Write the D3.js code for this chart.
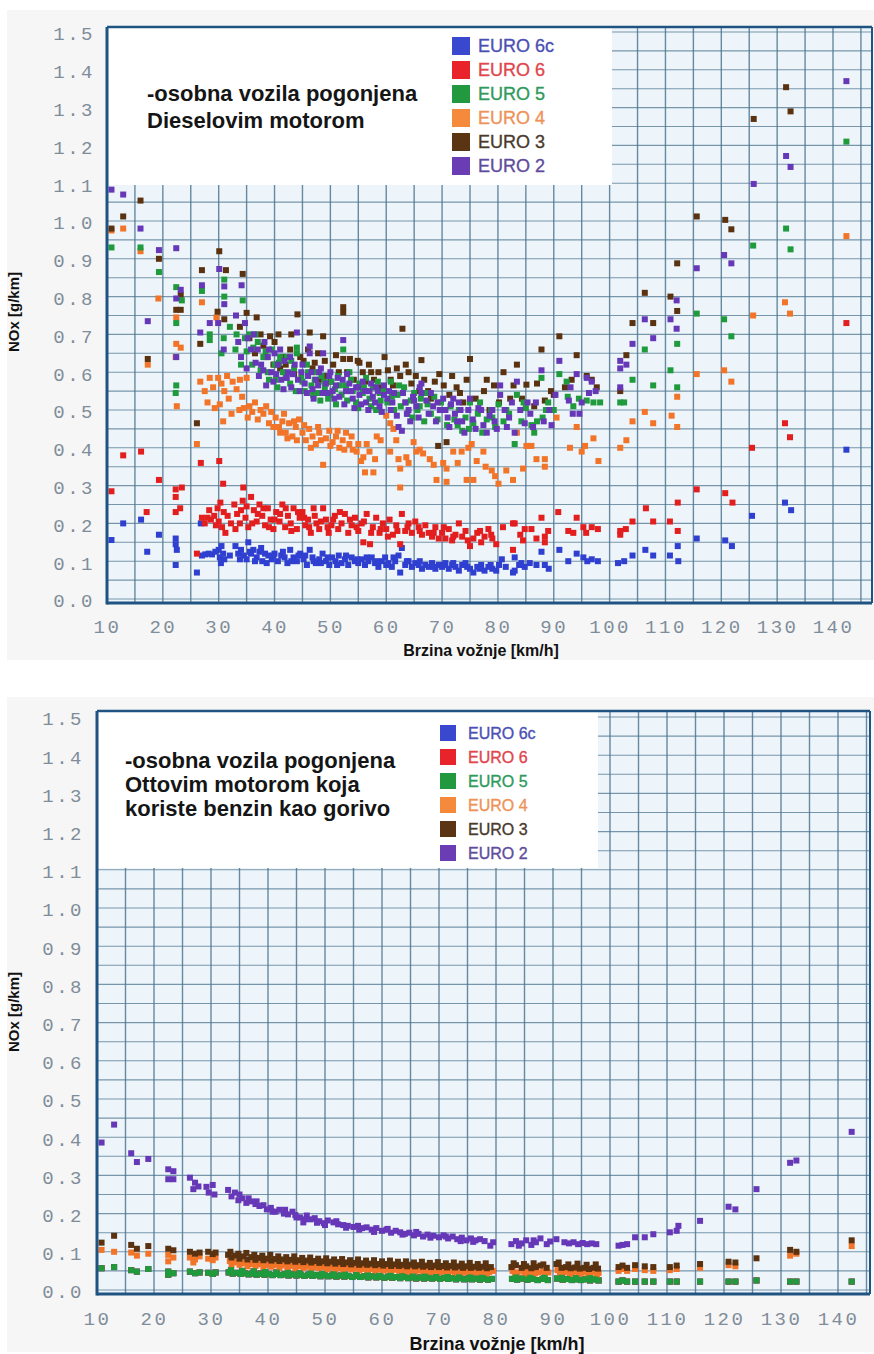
<!DOCTYPE html>
<html><head><meta charset="utf-8">
<script src="https://cdn.jsdelivr.net/npm/d3@7"></script>
<style>body{margin:0;background:#fff}svg{display:block}</style>
</head><body><svg id="c" width="874" height="1354"></svg>
<script>
// ---------- labels / ticks ----------
const legendLabels = ["EURO 6c","EURO 6","EURO 5","EURO 4","EURO 3","EURO 2"];
const seriesColors = ["#2f3fd0","#e31e1e","#1f9a3c","#f27428","#5a3210","#6638b8"];
const legendSquareColors = ["#3a48d0","#e8242a","#22993f","#f58a3c","#5b3513","#6a3db5"];
const legendTextColors = ["#4b50b4","#e0464c","#2f9a5c","#ee9358","#4a3a2c","#5e4c9c"];
const xTickValues = [10,20,30,40,50,60,70,80,90,100,110,120,130,140];
const yTickValues = [0,0.1,0.2,0.3,0.4,0.5,0.6,0.7,0.8,0.9,1.0,1.1,1.2,1.3,1.4,1.5];
const dieselTitle = ["-osobna vozila pogonjena","Dieselovim motorom"];
const ottoTitle = ["-osobna vozila pogonjena","Ottovim motorom koja","koriste benzin kao gorivo"];
const xAxisTitle = "Brzina vožnje [km/h]";
const yAxisTitle = "NOx [g/km]";

// ---------- Diesel data [speed km/h, NOx g/km] ----------
const dieselE6c = [[10.8,0.156],[12.9,0.20],[16.1,0.21],[17.2,0.125],[19.3,0.17],[22.3,0.16],[22.3,0.145],[22.5,0.13],[22.3,0.09],[26.1,0.07],[26.8,0.20],
[27.0,0.115],[27.6,0.118],[28.2,0.12],[28.8,0.118],[29.4,0.125],[30.0,0.13],[30.2,0.11],[30.5,0.14],[30.8,0.12],[31.0,0.105],[30.4,0.095],
[33.0,0.14],[33.5,0.12],[34.0,0.13],[34.5,0.115],[35.0,0.105],[35.3,0.15],[35.8,0.12],[36.2,0.13],[36.8,0.11],[37.3,0.125],[37.8,0.10],[38.3,0.12],[38.9,0.115],[39.5,0.105],[40.0,0.12],[40.6,0.10],[41.2,0.115],[41.8,0.11],[42.3,0.095],[42.8,0.13],[43.4,0.11],[44.0,0.10],[44.6,0.12],
[45.2,0.105],[45.8,0.09],[46.3,0.13],[46.8,0.11],[47.4,0.095],[48.0,0.105],[48.6,0.12],[49.2,0.10],[49.8,0.09],[50.3,0.11],[50.9,0.10],[51.5,0.115],[52.0,0.095],[52.6,0.105],[53.2,0.09],[53.8,0.11],[54.4,0.10],[55.0,0.095],[55.6,0.105],[56.2,0.09],[56.8,0.10],[57.4,0.11],[58.0,0.095],[58.6,0.085],[59.2,0.10],[59.8,0.11],[60.4,0.095],[61.0,0.085],[61.6,0.10],[62.2,0.115],[62.8,0.135],[62.5,0.07],[63.4,0.09],[64.0,0.10],[64.6,0.085],[65.2,0.095],[65.8,0.09],[66.4,0.08],[67.0,0.09],[67.6,0.085],[68.2,0.095],[68.8,0.08],[69.4,0.09],[70.0,0.085],[70.6,0.095],[71.2,0.08],[71.8,0.09],[72.4,0.085],[73.0,0.075],[73.6,0.09],[74.2,0.095],[75.0,0.08],[75.6,0.07],[76.3,0.085],[77.0,0.09],[77.6,0.075],[78.3,0.085],[79.0,0.08],[79.7,0.075],[80.7,0.105],[81.4,0.085],[82.7,0.07],[83.0,0.075],[83.0,0.11],[83.8,0.09],[84.8,0.085],[85.7,0.095],[86.9,0.09],[87.8,0.125],[88.4,0.09],[89.1,0.08],[91.0,0.13],[92.6,0.10],[94.1,0.12],[95.3,0.11],[96.0,0.10],[96.8,0.105],[97.9,0.10],
[32.0,0.115],[33.8,0.105],[35.6,0.125],[36.5,0.10],[37.6,0.135],[38.6,0.095],[39.8,0.115],[41.5,0.125],[43.0,0.10],[44.3,0.115],[45.5,0.115],[47.0,0.10],[48.3,0.095],[49.5,0.11],[51.2,0.09],[52.8,0.115],[54.8,0.105],[56.5,0.11],[58.3,0.10],[60.0,0.09],[61.3,0.11],[63.7,0.10],[66.0,0.10],[68.5,0.085],[70.3,0.09],[72.0,0.095],[74.5,0.085],[76.7,0.08],[78.7,0.09],[80.2,0.09],[84.2,0.095],
[101.5,0.095],[102.6,0.10],[104.1,0.115],[106.4,0.13],[107.8,0.115],[110.8,0.115],[112.2,0.14],[112.3,0.10],[115.6,0.16],[120.7,0.155],[121.9,0.14],[125.5,0.22],[131.4,0.255],[132.5,0.235],[142.4,0.395]];

const dieselE6 = [[10.8,0.285],[12.9,0.38],[16.1,0.39],[17.1,0.23],[19.3,0.315],[22.3,0.29],[22.3,0.27],[22.3,0.23],[23.1,0.24],[23.4,0.295],[26.8,0.36],[26.1,0.12],[30.1,0.365],[30.8,0.305],[34.4,0.295],
[27.0,0.215],[27.5,0.20],[28.0,0.215],[28.6,0.21],[29.2,0.22],[29.8,0.24],[30.0,0.205],[30.3,0.255],[30.6,0.19],[30.9,0.23],[31.2,0.175],
[32.8,0.25],[33.3,0.225],[33.8,0.20],[34.3,0.26],[34.8,0.215],[35.3,0.19],[35.8,0.27],[36.3,0.235],[36.8,0.205],[37.3,0.25],[37.8,0.22],[38.3,0.195],[38.8,0.24],[39.3,0.21],[39.8,0.185],[40.3,0.23],[40.9,0.205],[41.4,0.25],[41.9,0.19],[42.4,0.22],[42.9,0.20],[43.4,0.24],[44.0,0.185],[44.5,0.215],
[45.0,0.23],[45.5,0.195],[46.0,0.21],[46.5,0.175],[47.0,0.24],[47.5,0.20],[48.0,0.185],[48.7,0.24],[49.2,0.21],[49.7,0.175],[50.2,0.195],[50.8,0.22],[51.4,0.185],[52.0,0.20],[52.6,0.225],[53.2,0.175],[53.8,0.195],[54.4,0.215],[55.0,0.18],[55.6,0.20],[55.9,0.15],[56.5,0.225],[57.1,0.145],[57.6,0.19],[58.2,0.215],[58.8,0.175],[59.4,0.20],[60.0,0.185],[60.6,0.21],[61.2,0.17],[61.8,0.195],[62.5,0.145],[62.8,0.225],[63.4,0.18],[64.0,0.20],[64.6,0.175],[65.2,0.205],[65.8,0.19],[66.4,0.17],[67.0,0.195],[67.6,0.175],[68.2,0.165],[68.8,0.19],[69.4,0.16],[70.0,0.175],[70.6,0.16],[71.2,0.185],[71.8,0.155],[72.4,0.17],[73.0,0.20],[73.6,0.165],[74.2,0.18],[75.0,0.14],[75.6,0.16],[76.3,0.175],[77.0,0.15],[77.6,0.165],[78.3,0.185],[79.0,0.16],[79.7,0.145],[80.9,0.19],[82.7,0.20],[82.7,0.13],[83.0,0.20],[84.5,0.155],[84.8,0.185],[86.0,0.185],[86.9,0.16],[87.8,0.215],[88.4,0.165],[88.4,0.15],[90.8,0.23],[92.6,0.18],[94.1,0.215],[95.3,0.19],[95.8,0.175],[96.8,0.19],[97.9,0.185],
[28.3,0.235],[29.5,0.195],[31.6,0.22],[32.2,0.20],[33.0,0.185],[34.0,0.235],[35.0,0.245],[36.0,0.20],[37.0,0.225],[38.0,0.24],[39.0,0.19],[40.0,0.21],[41.0,0.225],[42.0,0.24],[43.0,0.18],[44.2,0.23],[45.3,0.215],[46.2,0.19],[47.2,0.22],[48.3,0.205],[49.5,0.19],[50.5,0.21],[51.7,0.23],[53.5,0.21],[54.7,0.19],[56.0,0.205],[57.3,0.175],[59.0,0.185],[60.3,0.165],[62.0,0.18],[63.8,0.19],[66.0,0.18],[68.5,0.175],[70.3,0.19],[72.0,0.165],[74.6,0.155],[76.8,0.18],[78.8,0.17],[84.0,0.17],[89.0,0.18],[93.5,0.175],
[101.9,0.17],[101.9,0.18],[102.9,0.185],[104.1,0.205],[106.5,0.24],[107.8,0.205],[110.8,0.205],[112.2,0.18],[112.2,0.255],[115.6,0.29],[120.7,0.28],[122.0,0.255],[125.5,0.40],[131.4,0.465],[132.3,0.428],[142.4,0.73]];

const dieselE5 = [[10.8,0.93],[16.0,0.93],[19.3,0.865],[22.4,0.825],[22.4,0.73],[22.4,0.565],[23.4,0.79],[22.3,0.545],
[27.0,0.815],[28.4,0.70],[28.4,0.685],[31.0,0.845],[31.0,0.80],[30.9,0.69],[30.5,0.65],[33.2,0.70],[34.3,0.79],[34.7,0.69],[35.5,0.70],[36.2,0.665],[37.0,0.68],
[38.0,0.64],[38.8,0.60],[39.5,0.66],[40.2,0.58],[40.8,0.625],[41.5,0.60],[42.2,0.64],[42.8,0.57],[43.5,0.61],[44.0,0.665],[44.0,0.65],[44.8,0.585],[45.4,0.55],[46.0,0.60],[46.6,0.565],[47.2,0.58],[47.8,0.545],[48.4,0.59],[49.0,0.56],[49.6,0.53],[50.2,0.575],[50.8,0.555],[51.4,0.59],[52.0,0.54],[52.3,0.66],[52.8,0.565],[53.4,0.60],[54.0,0.55],[54.6,0.52],[55.2,0.57],[55.8,0.545],[56.4,0.585],[57.0,0.53],[57.6,0.56],[58.2,0.50],[58.8,0.545],[59.6,0.555],[60.2,0.52],[60.8,0.575],[61.4,0.50],[62.0,0.54],[62.6,0.51],[63.2,0.56],[63.8,0.49],[64.4,0.525],[65.0,0.545],[65.6,0.50],[66.2,0.53],[66.8,0.47],[67.4,0.515],[68.0,0.49],[68.6,0.535],[69.2,0.475],[70.0,0.50],[70.9,0.46],[71.5,0.51],[72.2,0.475],[73.0,0.50],[73.6,0.445],[74.2,0.48],[75.0,0.52],[75.6,0.465],[76.4,0.49],[77.2,0.44],[78.0,0.475],[78.8,0.50],[79.5,0.455],[80.1,0.515],[81.0,0.47],[82.0,0.49],[83.0,0.41],[83.4,0.54],[84.2,0.47],[85.0,0.505],[86.0,0.46],[87.0,0.47],[87.8,0.585],[88.0,0.48],[89.0,0.52],[90.0,0.50],[91.0,0.595],[92.3,0.575],[92.5,0.535],[93.5,0.51],[94.5,0.53],[95.9,0.525],[97.1,0.52],[98.3,0.52],
[32.0,0.72],[33.0,0.66],[34.0,0.62],[35.0,0.655],[36.0,0.62],[36.6,0.70],[37.5,0.605],[38.4,0.655],[39.0,0.58],[40.0,0.62],[40.5,0.56],[41.0,0.64],[42.0,0.585],[43.0,0.63],[43.8,0.55],[45.0,0.575],[45.8,0.62],[46.9,0.54],[47.5,0.60],[48.2,0.525],[48.9,0.575],[50.0,0.54],[51.0,0.515],[51.7,0.565],[53.0,0.525],[53.7,0.58],[55.0,0.505],[56.0,0.56],[57.3,0.51],[58.5,0.575],[59.0,0.525],[61.0,0.535],[62.3,0.565],[63.5,0.52],[64.7,0.48],[66.0,0.51],[67.0,0.545],[69.8,0.52],[72.8,0.46],[74.8,0.45],[76.8,0.52],[79.0,0.48],[81.5,0.50],[84.6,0.52],[86.5,0.44],[88.6,0.50],
[101.9,0.52],[102.6,0.52],[104.1,0.58],[106.3,0.66],[107.8,0.565],[110.9,0.605],[112.1,0.56],[112.1,0.675],[115.6,0.755],[120.5,0.74],[121.8,0.695],[125.7,0.935],[131.6,0.98],[132.4,0.925],[142.4,1.21]];

const dieselE4 = [[10.8,0.975],[12.9,0.98],[16.0,0.92],[17.3,0.62],[19.2,0.795],[22.4,0.745],[22.4,0.675],[23.2,0.665],[22.5,0.51],[22.3,0.64],
[26.7,0.575],[27.0,0.785],[26.1,0.41],[28.4,0.585],[29.9,0.585],[30.2,0.515],[30.8,0.47],[31.0,0.55],[29.6,0.745],[31.5,0.59],[32.5,0.575],
[33.8,0.58],[35.0,0.585],[33.7,0.50],[34.5,0.505],[35.5,0.51],[36.5,0.52],[37.5,0.50],[38.5,0.51],[39.4,0.495],
[40.2,0.48],[40.8,0.455],[41.4,0.47],[42.0,0.44],[42.6,0.465],[43.2,0.43],[43.8,0.455],[44.4,0.475],[45.0,0.44],[45.6,0.42],[46.2,0.45],[46.8,0.43],[47.4,0.41],[48.0,0.44],[48.7,0.355],[49.2,0.425],[49.8,0.445],[50.4,0.415],[51.0,0.43],[51.6,0.40],[52.2,0.42],[52.8,0.44],[53.4,0.41],[54.0,0.395],[54.7,0.39],[55.9,0.375],[56.2,0.335],[57.7,0.335],[56.5,0.41],[58.3,0.43],[60.0,0.485],[60.7,0.465],[60.7,0.39],[61.3,0.45],[62.2,0.37],[62.5,0.345],[62.5,0.295],[63.6,0.375],[64.9,0.415],[65.4,0.39],[66.0,0.395],[66.6,0.385],[67.8,0.37],[69.0,0.315],[70.2,0.36],[70.8,0.345],[70.8,0.31],[72.0,0.39],[73.5,0.39],[74.4,0.315],[74.7,0.40],[75.3,0.41],[75.6,0.315],[76.2,0.365],[77.4,0.39],[78.9,0.34],[79.5,0.325],[80.1,0.305],[82.7,0.315],[83.4,0.44],[84.5,0.345],[85.1,0.405],[86.0,0.405],[86.9,0.37],[88.4,0.37],[88.4,0.35],[90.5,0.48],[92.9,0.40],[94.1,0.455],[95.0,0.39],[95.6,0.405],[97.1,0.425],[98.0,0.365],
[27.5,0.55],[28.0,0.52],[29.0,0.56],[29.3,0.505],[30.5,0.57],[31.8,0.53],[32.3,0.49],[33.2,0.555],[34.2,0.535],[35.2,0.48],[36.0,0.495],[37.0,0.475],[38.0,0.49],[39.0,0.465],[39.8,0.455],[41.0,0.44],[41.7,0.49],[42.3,0.425],[43.5,0.47],[44.0,0.42],[45.3,0.46],[46.5,0.40],[47.8,0.455],[48.3,0.42],[50.0,0.405],[51.3,0.445],[52.5,0.395],[53.8,0.43],[55.0,0.41],[55.5,0.365],[57.0,0.39],[58.0,0.37],[59.0,0.42],[61.8,0.42],[64.0,0.36],[68.5,0.355],[72.8,0.36],[77.8,0.35],[81.5,0.34],
[101.9,0.40],[103.0,0.42],[104.1,0.47],[106.3,0.495],[107.8,0.465],[111.1,0.485],[112.1,0.535],[112.1,0.455],[115.6,0.595],[120.5,0.605],[121.8,0.575],[125.7,0.75],[131.4,0.785],[132.3,0.755],[142.4,0.96]];

const dieselE3 = [[10.8,0.98],[12.9,1.012],[16.0,1.054],[17.3,0.635],[19.3,0.90],[22.4,0.765],[23.2,0.765],[23.2,0.805],[26.1,0.465],[27.0,0.87],[30.1,0.92],[31.3,0.87],[34.3,0.86],[35.0,0.757],[36.8,0.745],[26.7,0.675],[29.8,0.76],[31.0,0.74],
[39.2,0.695],[40.7,0.70],[44.1,0.753],[46.3,0.705],[48.7,0.695],[52.3,0.772],[52.3,0.758],[52.3,0.635],[53.5,0.635],[54.9,0.63],
[38.0,0.67],[39.8,0.62],[41.5,0.64],[42.8,0.66],[43.5,0.595],[45.2,0.63],[46.8,0.61],[47.8,0.65],[49.4,0.59],[50.5,0.62],[51.5,0.60],[55.8,0.60],[56.9,0.62],[57.8,0.58],[58.6,0.60],[59.7,0.64],[60.8,0.58],[61.9,0.61],[62.9,0.715],[63.5,0.62],[64.5,0.57],[65.3,0.59],[66.3,0.632],[67.5,0.55],[68.7,0.575],[69.3,0.405],[69.5,0.595],[70.8,0.415],[71.3,0.54],[72.6,0.56],[73.8,0.52],[75.0,0.635],[76.0,0.53],[77.5,0.55],[78.5,0.50],[79.3,0.565],[81.0,0.60],[82.2,0.53],[83.4,0.62],[85.1,0.567],[86.5,0.51],[87.8,0.66],[88.4,0.525],[89.5,0.55],[91.0,0.695],[92.0,0.56],[94.1,0.645],[95.9,0.59],[96.8,0.58],[97.7,0.56],
[33.8,0.72],[35.5,0.69],[36.5,0.65],[37.5,0.70],[38.5,0.64],[40.0,0.68],[41.0,0.61],[42.0,0.62],[43.0,0.70],[44.6,0.64],[46.0,0.66],[47.2,0.625],[48.2,0.58],[49.0,0.63],[50.0,0.575],[51.0,0.645],[53.0,0.60],[54.2,0.58],[55.2,0.625],[56.3,0.575],[57.3,0.60],[59.0,0.56],[60.3,0.605],[61.2,0.565],[62.5,0.59],[64.0,0.60],[65.9,0.55],[66.8,0.58],[68.0,0.53],[70.3,0.565],[71.8,0.59],[73.2,0.545],[74.4,0.58],[76.7,0.50],[78.0,0.58],[80.2,0.52],[82.8,0.565],[84.3,0.53],[87.0,0.57],[90.0,0.54],[93.2,0.58],
[101.9,0.55],[103.0,0.645],[104.1,0.73],[106.3,0.81],[107.8,0.73],[110.9,0.80],[112.1,0.762],[112.1,0.888],[115.6,1.012],[120.7,1.003],[121.8,0.978],[125.8,1.27],[131.6,1.354],[132.4,1.29]];

const dieselE2 = [[10.8,1.083],[12.9,1.07],[16.0,0.98],[17.3,0.735],[19.3,0.923],[22.4,0.928],[23.2,0.818],[22.4,0.795],[22.4,0.64],[27.0,0.83],[26.7,0.705],[28.4,0.73],[29.9,0.73],[30.1,0.873],[31.0,0.827],[31.0,0.78],[30.9,0.66],[33.1,0.75],[34.1,0.83],[34.7,0.73],[35.2,0.69],[36.3,0.70],
[37.0,0.66],[37.6,0.62],[38.2,0.68],[38.8,0.64],[39.4,0.60],[40.0,0.65],[40.6,0.62],[41.2,0.58],[41.8,0.63],[42.4,0.60],[43.0,0.56],[43.6,0.62],[44.0,0.705],[44.2,0.58],[44.8,0.60],[45.4,0.57],[46.0,0.59],[46.3,0.668],[46.3,0.65],[46.8,0.555],[47.4,0.58],[48.0,0.60],[48.7,0.65],[48.6,0.545],[49.2,0.57],[49.8,0.59],[50.4,0.55],[51.0,0.565],[51.6,0.535],[52.3,0.685],[52.2,0.58],[52.8,0.55],[53.4,0.57],[54.0,0.53],[54.6,0.56],[55.2,0.54],[55.8,0.575],[56.4,0.52],[57.0,0.55],[57.6,0.535],[58.2,0.56],[58.8,0.51],[59.6,0.565],[59.6,0.54],[60.2,0.53],[60.8,0.50],[61.4,0.545],[61.9,0.485],[62.2,0.455],[62.8,0.445],[63.4,0.52],[64.0,0.50],[64.8,0.535],[65.4,0.51],[66.0,0.56],[66.3,0.57],[66.3,0.545],[67.2,0.525],[68.4,0.51],[69.6,0.50],[70.2,0.53],[71.0,0.48],[71.6,0.515],[72.3,0.49],[73.0,0.52],[73.6,0.47],[74.7,0.50],[75.5,0.475],[76.5,0.505],[77.4,0.46],[78.5,0.485],[79.4,0.47],[80.4,0.565],[80.4,0.54],[81.2,0.50],[82.0,0.48],[83.4,0.575],[84.0,0.50],[84.8,0.465],[85.8,0.49],[86.8,0.52],[87.8,0.605],[88.2,0.47],[89.2,0.50],[91.0,0.63],[92.7,0.525],[93.4,0.49],[94.1,0.595],[95.0,0.52],[95.9,0.585],[96.8,0.575],[97.5,0.55],
[33.5,0.68],[34.0,0.64],[35.0,0.61],[35.8,0.66],[36.6,0.625],[37.2,0.59],[38.0,0.605],[38.5,0.565],[39.0,0.66],[39.8,0.575],[40.3,0.595],[41.0,0.66],[41.6,0.555],[42.2,0.585],[42.8,0.64],[43.3,0.595],[44.5,0.55],[45.0,0.62],[45.8,0.545],[46.6,0.60],[47.0,0.53],[47.8,0.565],[48.3,0.61],[49.5,0.545],[50.0,0.60],[50.7,0.53],[51.3,0.585],[52.5,0.515],[53.0,0.595],[53.7,0.55],[54.3,0.505],[55.0,0.56],[55.5,0.515],[56.2,0.55],[56.8,0.50],[57.3,0.57],[58.0,0.52],[58.5,0.55],[59.2,0.495],[60.5,0.55],[61.1,0.52],[63.0,0.545],[63.7,0.49],[64.3,0.47],[65.0,0.525],[65.8,0.48],[67.6,0.49],[68.0,0.545],[68.9,0.47],[69.2,0.52],[70.6,0.50],[71.3,0.455],[72.0,0.53],[72.7,0.47],[73.3,0.50],[74.0,0.44],[75.0,0.53],[76.0,0.45],[77.0,0.50],[78.0,0.44],[79.0,0.50],[79.8,0.45],[81.6,0.455],[82.5,0.52],[83.0,0.44],[85.3,0.52],[86.3,0.455],[89.6,0.46],[90.3,0.54],[93.0,0.56],[94.6,0.49],[96.3,0.545],
[101.9,0.61],[101.9,0.56],[103.0,0.62],[101.9,0.63],[104.1,0.675],[106.3,0.74],[107.8,0.69],[110.9,0.74],[112.0,0.715],[112.0,0.79],[115.6,0.875],[120.5,0.91],[121.8,0.888],[125.8,1.098],[131.6,1.172],[132.4,1.143],[142.4,1.37]];

// ---------- Otto (petrol) data ----------
const ottoE2 = [[10.8,0.386],[13.0,0.433],[16.0,0.358],[17.0,0.335],[19.0,0.343],[22.5,0.316],[23.4,0.311],[22.5,0.29],[23.4,0.29],[26.3,0.294],[27.2,0.281],[26.9,0.264],[27.8,0.271],[29.2,0.27],[29.6,0.255],[30.3,0.275],[30.6,0.25],[33.0,0.262],[33.6,0.245],[34.2,0.255],[34.8,0.235],[35.5,0.24],[36.2,0.228],[37.0,0.232],[37.8,0.225],[38.5,0.22],[39.8,0.211],[40.5,0.215],[41.3,0.205],[42.0,0.21],[42.8,0.20],[43.5,0.198],[44.3,0.205],[45.0,0.19],[45.6,0.19],[46.2,0.177],[46.8,0.195],[47.5,0.185],[48.2,0.188],[49.0,0.18],[49.8,0.175],[50.5,0.182],[51.5,0.177],[52.3,0.172],[53.2,0.17],[54.0,0.168],[55.0,0.165],[55.8,0.168],[56.5,0.162],[57.3,0.164],[58.2,0.158],[59.0,0.162],[60.0,0.155],[60.8,0.158],[61.6,0.15],[62.4,0.155],[63.2,0.151],[64.0,0.147],[64.8,0.15],[65.6,0.143],[66.4,0.147],[67.2,0.14],[68.0,0.145],[69.0,0.142],[70.0,0.138],[70.8,0.143],[71.6,0.135],[72.4,0.14],[73.2,0.133],[74.0,0.137],[74.8,0.13],[75.6,0.135],[76.4,0.13],[77.2,0.133],[78.0,0.128],[79.0,0.116],[79.5,0.125],[82.7,0.12],[83.5,0.128],[84.5,0.122],[85.3,0.13],[86.2,0.118],[87.0,0.125],[87.8,0.135],[88.9,0.12],[90.6,0.133],[92.0,0.125],[92.8,0.122],[93.6,0.125],[94.4,0.12],[95.2,0.123],[96.0,0.12],[96.8,0.122],[97.6,0.12],[101.5,0.116],[102.2,0.118],[103.0,0.12],[104.4,0.138],[106.1,0.138],[107.6,0.146],[110.5,0.151],[111.7,0.155],[112.0,0.168],[115.8,0.181],[120.8,0.218],[122.0,0.211],[125.7,0.264],[131.6,0.333],[132.7,0.339],[142.4,0.414],
[35.0,0.25],[36.6,0.24],[38.0,0.232],[39.2,0.222],[40.8,0.205],[43.0,0.21],[44.8,0.196],[46.5,0.185],[48.6,0.176],[50.0,0.17],[52.0,0.18],[53.7,0.163],[56.0,0.158],[58.6,0.152],[61.0,0.16],[63.6,0.145],[66.0,0.152],[68.5,0.137],[71.2,0.14],[73.8,0.128],[76.0,0.126],[84.0,0.116],[86.6,0.13],[89.5,0.127]];

const ottoE3 = [[10.8,0.124],[13.0,0.142],[16.0,0.118],[17.0,0.108],[19.0,0.115],[22.5,0.108],[23.4,0.104],[26.3,0.10],[27.2,0.095],[28.0,0.098],[29.5,0.10],[30.3,0.094],[30.8,0.098],
[33.0,0.092],[33.6,0.085],[34.3,0.09],[35.0,0.082],[35.7,0.088],[36.4,0.08],[37.1,0.086],[37.8,0.079],[38.5,0.084],[39.2,0.078],[39.9,0.082],[40.6,0.077],[41.3,0.081],[42.0,0.076],[42.7,0.08],[43.4,0.075],[44.1,0.079],[44.8,0.074],[45.5,0.078],[46.2,0.073],[46.9,0.077],[47.6,0.072],[48.3,0.076],[49.0,0.071],[49.7,0.075],[50.4,0.07],[51.1,0.074],[51.8,0.069],[52.5,0.073],[53.2,0.068],[53.9,0.072],[54.6,0.067],[55.3,0.071],[56.0,0.066],[56.7,0.07],[57.4,0.066],[58.1,0.069],[58.8,0.065],[59.5,0.068],[60.2,0.064],[60.9,0.068],[61.6,0.063],[62.3,0.067],[63.0,0.063],[63.7,0.066],[64.4,0.062],[65.1,0.066],[65.8,0.062],[66.5,0.065],[67.2,0.061],[67.9,0.064],[68.6,0.06],[69.3,0.064],[70.0,0.06],[70.7,0.063],[71.4,0.059],[72.1,0.063],[72.8,0.059],[73.5,0.062],[74.2,0.058],[74.9,0.062],[75.6,0.058],[76.3,0.061],[77.0,0.058],[77.7,0.061],[78.4,0.057],[79.1,0.06],[82.7,0.06],[83.5,0.065],[84.5,0.058],[85.3,0.062],[86.2,0.057],[87.0,0.06],[87.8,0.064],[88.9,0.058],[90.6,0.068],[91.5,0.058],[92.3,0.06],[93.1,0.057],[93.9,0.059],[94.7,0.056],[95.5,0.058],[96.3,0.055],[97.1,0.058],[97.9,0.056],
[33.4,0.10],[34.8,0.095],[36.2,0.097],[37.6,0.092],[39.0,0.09],[40.4,0.092],[41.8,0.088],[43.2,0.086],[44.6,0.088],[46.0,0.084],[47.4,0.085],[48.8,0.082],[50.2,0.083],[51.6,0.08],[53.0,0.081],[54.4,0.078],[55.8,0.08],[57.2,0.077],[58.6,0.078],[60.0,0.075],[61.4,0.077],[62.8,0.074],[64.2,0.075],[65.6,0.072],[67.0,0.074],[68.4,0.071],[69.8,0.073],[71.2,0.07],[72.6,0.072],[74.0,0.069],[75.4,0.071],[76.8,0.068],[78.2,0.07],[83.1,0.07],[84.9,0.068],[86.6,0.07],[88.3,0.067],[91.0,0.072],[92.7,0.067],[94.3,0.069],[95.9,0.066],[97.5,0.067],
[101.5,0.06],[102.2,0.064],[103.0,0.058],[104.4,0.065],[106.1,0.062],[107.6,0.06],[110.5,0.06],[111.7,0.064],[115.8,0.068],[120.8,0.074],[122.0,0.072],[125.7,0.083],[131.6,0.105],[132.7,0.10],[142.4,0.13]];

const ottoE4 = [[10.8,0.105],[13.0,0.10],[16.0,0.098],[17.0,0.09],[19.0,0.095],[22.5,0.092],[23.4,0.085],[26.3,0.085],[27.2,0.08],[28.0,0.088],[29.5,0.082],[30.3,0.078],[30.8,0.085],[22.5,0.075],[26.9,0.072],
[33.3,0.076],[34.0,0.072],[34.7,0.075],[35.4,0.07],[36.1,0.073],[36.8,0.068],[37.5,0.072],[38.2,0.067],[38.9,0.071],[39.6,0.066],[40.3,0.07],[41.0,0.065],[41.7,0.069],[42.4,0.064],[43.1,0.068],[43.8,0.063],[44.5,0.067],[45.2,0.062],[45.9,0.066],[46.6,0.061],[47.3,0.065],[48.0,0.06],[48.7,0.064],[49.4,0.06],[50.1,0.063],[50.8,0.059],[51.5,0.062],[52.2,0.058],[52.9,0.061],[53.6,0.057],[54.3,0.06],[55.0,0.056],[55.7,0.06],[56.4,0.055],[57.1,0.059],[57.8,0.055],[58.5,0.058],[59.2,0.054],[59.9,0.057],[60.6,0.053],[61.3,0.057],[62.0,0.053],[62.7,0.056],[63.4,0.052],[64.1,0.056],[64.8,0.052],[65.5,0.055],[66.2,0.051],[66.9,0.054],[67.6,0.05],[68.3,0.054],[69.0,0.05],[69.7,0.053],[70.4,0.049],[71.1,0.053],[71.8,0.049],[72.5,0.052],[73.2,0.048],[73.9,0.052],[74.6,0.048],[75.3,0.051],[76.0,0.047],[76.7,0.051],[77.4,0.047],[78.1,0.05],[78.8,0.047],[79.5,0.05],[82.9,0.05],[83.8,0.046],[84.8,0.05],[85.7,0.047],[86.6,0.05],[87.4,0.046],[88.3,0.049],[89.2,0.046],[90.8,0.052],[91.8,0.047],[92.6,0.049],[93.4,0.046],[94.2,0.049],[95.0,0.045],[95.8,0.048],[96.6,0.045],[97.4,0.048],[98.0,0.045],
[33.6,0.064],[35.0,0.066],[36.4,0.062],[37.8,0.063],[39.2,0.06],[40.6,0.061],[42.0,0.058],[43.4,0.06],[44.8,0.057],[46.2,0.058],[47.6,0.055],[49.0,0.057],[50.4,0.054],[51.8,0.055],[53.2,0.052],[54.6,0.054],[56.0,0.051],[57.4,0.052],[58.8,0.05],[60.2,0.051],[61.6,0.049],[63.0,0.05],[64.4,0.047],[65.8,0.049],[67.2,0.046],[68.6,0.047],[70.0,0.045],[71.4,0.046],[72.8,0.044],[74.2,0.045],[75.6,0.043],[77.0,0.044],[78.4,0.042],[83.3,0.043],[85.0,0.042],[86.8,0.043],[88.6,0.041],[91.2,0.044],[92.9,0.041],[94.5,0.042],[96.1,0.04],[97.7,0.041],
[101.5,0.05],[102.2,0.055],[103.0,0.05],[104.4,0.055],[106.1,0.052],[107.6,0.05],[110.5,0.052],[111.7,0.055],[115.8,0.058],[120.8,0.065],[122.0,0.062],[131.6,0.09],[132.7,0.095],[142.4,0.115]];

const ottoE5 = [[10.8,0.057],[13.0,0.06],[16.0,0.052],[17.0,0.048],[19.0,0.055],[22.5,0.048],[23.4,0.044],[26.3,0.048],[27.2,0.044],[28.0,0.046],[29.5,0.045],[30.3,0.042],[30.8,0.046],[22.5,0.04],
[33.1,0.046],[33.8,0.043],[34.5,0.045],[35.2,0.042],[35.9,0.044],[36.6,0.041],[37.3,0.043],[38.0,0.04],[38.7,0.043],[39.4,0.04],[40.1,0.042],[40.8,0.039],[41.5,0.042],[42.2,0.039],[42.9,0.041],[43.6,0.038],[44.3,0.041],[45.0,0.038],[45.7,0.04],[46.4,0.037],[47.1,0.04],[47.8,0.037],[48.5,0.039],[49.2,0.036],[49.9,0.039],[50.6,0.036],[51.3,0.038],[52.0,0.035],[52.7,0.038],[53.4,0.035],[54.1,0.037],[54.8,0.034],[55.5,0.037],[56.2,0.034],[56.9,0.036],[57.6,0.033],[58.3,0.036],[59.0,0.033],[59.7,0.035],[60.4,0.032],[61.1,0.035],[61.8,0.032],[62.5,0.034],[63.2,0.031],[63.9,0.034],[64.6,0.031],[65.3,0.033],[66.0,0.03],[66.7,0.033],[67.4,0.03],[68.1,0.032],[68.8,0.03],[69.5,0.032],[70.2,0.029],[70.9,0.032],[71.6,0.029],[72.3,0.031],[73.0,0.028],[73.7,0.031],[74.4,0.028],[75.1,0.03],[75.8,0.028],[76.5,0.03],[77.2,0.027],[77.9,0.03],[78.6,0.027],[79.3,0.029],[82.8,0.029],[83.7,0.027],[84.6,0.03],[85.5,0.027],[86.4,0.029],[87.3,0.026],[88.2,0.029],[89.1,0.026],[90.7,0.03],[91.7,0.027],[92.5,0.029],[93.3,0.026],[94.1,0.028],[94.9,0.026],[95.7,0.028],[96.5,0.025],[97.3,0.028],[98.0,0.025],
[33.5,0.052],[35.5,0.05],[37.5,0.049],[39.5,0.047],[41.5,0.046],[43.5,0.045],[45.5,0.044],[47.5,0.043],[49.5,0.042],[51.5,0.041],[53.5,0.04],[55.5,0.039],[57.5,0.038],[59.5,0.037],[61.5,0.037],[63.5,0.036],[65.5,0.035],[67.5,0.035],[69.5,0.034],[71.5,0.034],[73.5,0.033],[75.5,0.033],[77.5,0.032],[83.5,0.033],[86.0,0.032],[88.5,0.032],[91.5,0.032],[94.0,0.031],[96.5,0.031],
[101.5,0.022],[102.2,0.025],[103.0,0.022],[104.4,0.022],[106.1,0.022],[107.6,0.022],[110.5,0.022],[111.7,0.022],[115.8,0.022],[120.8,0.022],[122.0,0.022],[125.7,0.025],[131.6,0.022],[132.7,0.022],[142.4,0.022]];
// Petrol EURO 6 and 6c coincide with EURO 5 and lie hidden under it in the picture
const ottoE6 = ottoE5;
const ottoE6c = ottoE5;

// ---------- drawing ----------
const svg = d3.select("#c");
const drawOrder = [0,1,3,4,2,5];
const sans = "Liberation Sans, Arial, sans-serif";

function drawPanel(cfg) {
  const g = svg.append("g");
  const x = d3.scaleLinear().domain([10,140]).range(cfg.xRange);
  const y = d3.scaleLinear().domain([0,1.5]).range(cfg.yRange);
  const P = cfg.plot;
  g.append("rect").attr("x",cfg.bg[0]).attr("y",cfg.bg[1]).attr("width",cfg.bg[2]).attr("height",cfg.bg[3]).attr("fill","#f6f6f6");
  g.append("rect").attr("x",P.l).attr("y",P.t).attr("width",P.r-P.l).attr("height",P.b-P.t).attr("fill","#edf5fa");
  // grid
  const xMax = x.invert(P.r), yMax = y.invert(P.t);
  const vx = d3.range(15, xMax, 5);
  const hy = d3.range(0, yMax, 0.05);
  g.selectAll(null).data(vx).enter().append("line")
    .attr("x1",d=>x(d)).attr("x2",d=>x(d)).attr("y1",P.t).attr("y2",P.b)
    .attr("stroke","#4f7590").attr("stroke-width",1.4).attr("stroke-opacity",0.85);
  g.selectAll(null).data(hy).enter().append("line")
    .attr("x1",P.l).attr("x2",P.r).attr("y1",d=>y(d)).attr("y2",d=>y(d))
    .attr("stroke","#4f7590").attr("stroke-width",1.1).attr("stroke-opacity",0.75);
  // white title/legend box
  g.append("rect").attr("x",P.l).attr("y",P.t).attr("width",cfg.box.r-P.l).attr("height",cfg.box.b-P.t).attr("fill","#ffffff");
  // points
  drawOrder.forEach(i => {
    g.append("g").selectAll("rect").data(cfg.series[i]).enter().append("rect")
      .attr("x",d=>x(d[0])-3).attr("y",d=>y(d[1])-3).attr("width",6).attr("height",6)
      .attr("fill",seriesColors[i]);
  });
  // frame
  const fr = g.append("g").attr("stroke","#1f5382").attr("fill","none");
  fr.append("line").attr("x1",P.l).attr("x2",P.r).attr("y1",P.t).attr("y2",P.t).attr("stroke-width",2.5);
  fr.append("line").attr("x1",P.r).attr("x2",P.r).attr("y1",P.t).attr("y2",P.b).attr("stroke-width",2);
  fr.append("line").attr("x1",P.l).attr("x2",P.r).attr("y1",P.b).attr("y2",P.b).attr("stroke-width",3);
  fr.append("line").attr("x1",P.l).attr("x2",P.l).attr("y1",P.t).attr("y2",P.b+1.5).attr("stroke-width",3);
  // axes
  const ya = g.append("g").attr("transform",`translate(${P.l},0)`)
    .call(d3.axisLeft(y).tickValues(yTickValues).tickFormat(d3.format(".1f")).tickSize(0).tickPadding(cfg.yPad));
  const xa = g.append("g").attr("transform",`translate(0,${P.b})`)
    .call(d3.axisBottom(x).tickValues(xTickValues).tickFormat(d3.format("d")).tickSize(0).tickPadding(cfg.xPad));
  [ya,xa].forEach(a => {
    a.select(".domain").remove();
    a.selectAll("text").attr("font-family","Liberation Mono, DejaVu Sans Mono, monospace")
      .attr("font-size",19).attr("letter-spacing","2.5px").attr("fill","#7f8d9a");
  });
  ya.selectAll("text").attr("dy","0.42em");
  // title
  cfg.title.forEach((t,k) => {
    g.append("text").attr("x",cfg.titleX).attr("y",cfg.titleY[k]).text(t)
      .attr("font-family",sans).attr("font-weight","bold")
      .attr("font-size",cfg.titleSize).attr("fill","#151515");
  });
  // legend
  const L = cfg.legend;
  legendLabels.forEach((lab,k) => {
    const cy = L.y0 + k*L.dy;
    g.append("rect").attr("x",L.x).attr("y",cy-L.sq/2).attr("width",L.sq).attr("height",L.sq).attr("fill",legendSquareColors[k]);
    g.append("text").attr("x",L.tx).attr("y",cy+L.fs*0.36).text(lab)
      .attr("font-family",sans).attr("font-size",L.fs)
      .attr("fill",legendTextColors[k]).attr("stroke",legendTextColors[k]).attr("stroke-width",0.35);
  });
  // axis titles
  g.append("text").attr("transform",`translate(${cfg.yTitle.x},${cfg.yTitle.y}) rotate(-90)`)
    .attr("text-anchor","middle").text(yAxisTitle).attr("font-weight","bold")
    .attr("font-family",sans).attr("font-size",cfg.yTitle.fs).attr("fill","#111");
  g.append("text").attr("x",cfg.xTitle.x).attr("y",cfg.xTitle.y).attr("text-anchor","middle").text(xAxisTitle)
    .attr("font-weight","bold").attr("font-family",sans).attr("font-size",cfg.xTitle.fs).attr("fill","#111");
}

drawPanel({
  bg:[7,10,867,650], plot:{l:107,r:872,t:27,b:603}, xRange:[107,833], yRange:[599,32],
  box:{r:612,b:185}, series:[dieselE6c,dieselE6,dieselE5,dieselE4,dieselE3,dieselE2],
  title:dieselTitle, titleX:147, titleY:[101,128], titleSize:22,
  legend:{x:452,y0:46,dy:24,sq:18,tx:478,fs:18},
  yPad:12, xPad:17, yTitle:{x:19,y:312,fs:15}, xTitle:{x:481,y:656,fs:16}
});
drawPanel({
  bg:[7,697,867,655], plot:{l:97,r:870,t:711,b:1294}, xRange:[97,838], yRange:[1290,717],
  box:{r:598,b:868}, series:[ottoE6c,ottoE6,ottoE5,ottoE4,ottoE3,ottoE2],
  title:ottoTitle, titleX:125, titleY:[768,792,816], titleSize:22,
  legend:{x:440,y0:733,dy:24,sq:16,tx:468,fs:16},
  yPad:13, xPad:18, yTitle:{x:19,y:1012,fs:15}, xTitle:{x:497,y:1350,fs:18}
});
</script></body></html>
